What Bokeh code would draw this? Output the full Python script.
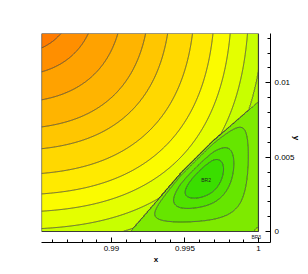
import numpy as np
from bokeh.plotting import figure
from bokeh.models import Range1d, FixedTicker, CustomJSTickFormatter
from bokeh.embed import file_html
from bokeh.resources import INLINE
from bokeh.core.properties import value

# ---------------- values ----------------
X_LIMITS = [0.98524, 1.0]          # extent of the contoured field
Y_LIMITS = [0.0, 0.013315]
X_AXIS_END = 1.00082               # axes are offset from the field (Tecplot style)
Y_AXIS_START = -0.00074

X_TICKS = [0.99, 0.995, 1.0]
X_MINOR_TICKS = [0.986, 0.987, 0.988, 0.989, 0.991, 0.992, 0.993, 0.994,
                 0.996, 0.997, 0.998, 0.999]
Y_TICKS = [0.0, 0.005, 0.01]
Y_MINOR_TICKS = [0.001, 0.002, 0.003, 0.004, 0.006, 0.007, 0.008, 0.009,
                 0.011, 0.012, 0.013]

CONTOUR_LEVELS = [1, 2, 3, 4, 5, 6, 7, 8, 9, 10, 11, 12, 13, 14]
BAND_COLORS = ["#ff7b00", "#ff8f00", "#ffa200", "#ffb400", "#ffc600",
               "#ffd800", "#ffea00", "#fbfb00", "#e4ff00", "#c8ff00",
               "#aef800", "#7eea00", "#66e600", "#50e200", "#3ade00"]

# outer field: level index versus (super-elliptic) distance from the max at upper left
PEAK_CENTER_X = 0.98177
PEAK_CENTER_Y = 0.01775
PEAK_EXPONENT = 2.8
LEVEL_RADII = [0.00592, 0.00735, 0.00912, 0.01088, 0.01231,
               0.01395, 0.01531, 0.01646, 0.01762, 0.01864]

# discontinuity bounding the green recirculation zone
SHOCK_X = [0.99129, 0.99469, 0.99694, 1.0]
SHOCK_Y = [0.0, 0.0039, 0.00612, 0.00874]

# inner field: level versus normalised bubble strength
BUBBLE_FRACTION = [0.0, 0.12, 0.51, 0.78, 1.0]
BUBBLE_LEVEL = [11.15, 12.0, 13.0, 14.0, 14.6]
CORNER_DIP = 0.4
CORNER_SCALE = 0.00027

LABEL_TEXT = ["BR2", "BR3"]
LABEL_X = [0.99644, 0.99985]
LABEL_Y = [0.00349, -0.00040]

# ---------------- build the field ----------------
xs = np.linspace(X_LIMITS[0], X_LIMITS[1], 361)
ys = np.linspace(Y_LIMITS[0], Y_LIMITS[1], 331)
X, Y = np.meshgrid(xs, ys)

k = PEAK_EXPONENT
r = (np.abs(X - PEAK_CENTER_X) ** k + np.abs(PEAK_CENTER_Y - Y) ** k) ** (1.0 / k)
t_up = np.interp(r, [0.0] + LEVEL_RADII + [0.03],
                 [-4.0] + CONTOUR_LEVELS[:len(LEVEL_RADII)] + [10.95])

y_shock = np.interp(X, SHOCK_X, SHOCK_Y, left=-1.0)
below = Y < y_shock
d_v = np.clip(y_shock - Y, 0.0, None)
g = (Y ** 2) * ((1.0 - X) ** 2) * d_v ** 1.2
g = np.where(below, g, 0.0)
g = g / g.max()
t_low = np.interp(g, BUBBLE_FRACTION, BUBBLE_LEVEL)
t_low = t_low - CORNER_DIP * np.exp(-np.hypot(1.0 - X, Y) / CORNER_SCALE)
Z = np.where(below, t_low, t_up)

# ---------------- figure ----------------
p = figure(width=308, height=274,
           x_range=Range1d(X_LIMITS[0], X_AXIS_END),
           y_range=Range1d(Y_AXIS_START, Y_LIMITS[1]),
           x_axis_location="below", y_axis_location="right",
           output_backend="svg", toolbar_location=None,
           min_border_left=41, min_border_right=38,
           min_border_top=33, min_border_bottom=32)
p.outline_line_color = None
p.grid.visible = False
p.background_fill_color = "white"
p.border_fill_color = "white"

levels = [-10] + CONTOUR_LEVELS + [40]
p.contour(xs, ys, Z, levels=levels, fill_color=BAND_COLORS,
          line_color="#2e2e2e", line_width=0.8, line_alpha=0.9)

p.quad(left=[X_LIMITS[0]], right=[X_LIMITS[1]], bottom=[Y_LIMITS[0]],
       top=[Y_LIMITS[1]], fill_color=None, line_color="#3a3a3a", line_width=1.2)

p.text(x=LABEL_X, y=LABEL_Y, text=LABEL_TEXT, text_font=value("Liberation Sans"),
       text_font_size="5px", text_align="center", text_baseline="middle",
       text_color="#202020")

fmt = CustomJSTickFormatter(code="return String(Number(tick.toPrecision(6)));")

xa = p.xaxis[0]
xa.ticker = FixedTicker(ticks=X_TICKS, minor_ticks=X_MINOR_TICKS)
ya = p.yaxis[0]
ya.ticker = FixedTicker(ticks=Y_TICKS, minor_ticks=Y_MINOR_TICKS)
for ax in (xa, ya):
    ax.formatter = fmt
    ax.axis_line_color = "black"
    ax.axis_line_width = 1
    ax.major_tick_in = 5
    ax.major_tick_out = 0
    ax.minor_tick_in = 3
    ax.minor_tick_out = 0
    ax.major_tick_line_color = "black"
    ax.minor_tick_line_color = "black"
    ax.major_label_text_font = "Liberation Sans"
    ax.major_label_text_font_size = "8px"
    ax.major_label_text_color = "black"
    ax.axis_label_text_font = "Liberation Sans"
    ax.axis_label_text_font_size = "8px"
    ax.axis_label_text_font_style = "bold"
    ax.axis_label_text_color = "black"

xa.axis_label = "x"
xa.major_label_standoff = 3
xa.axis_label_standoff = 1
ya.axis_label = "y"
ya.major_label_standoff = 4
ya.axis_label_standoff = -6

open("out.html", "w").write(file_html(p, INLINE))
